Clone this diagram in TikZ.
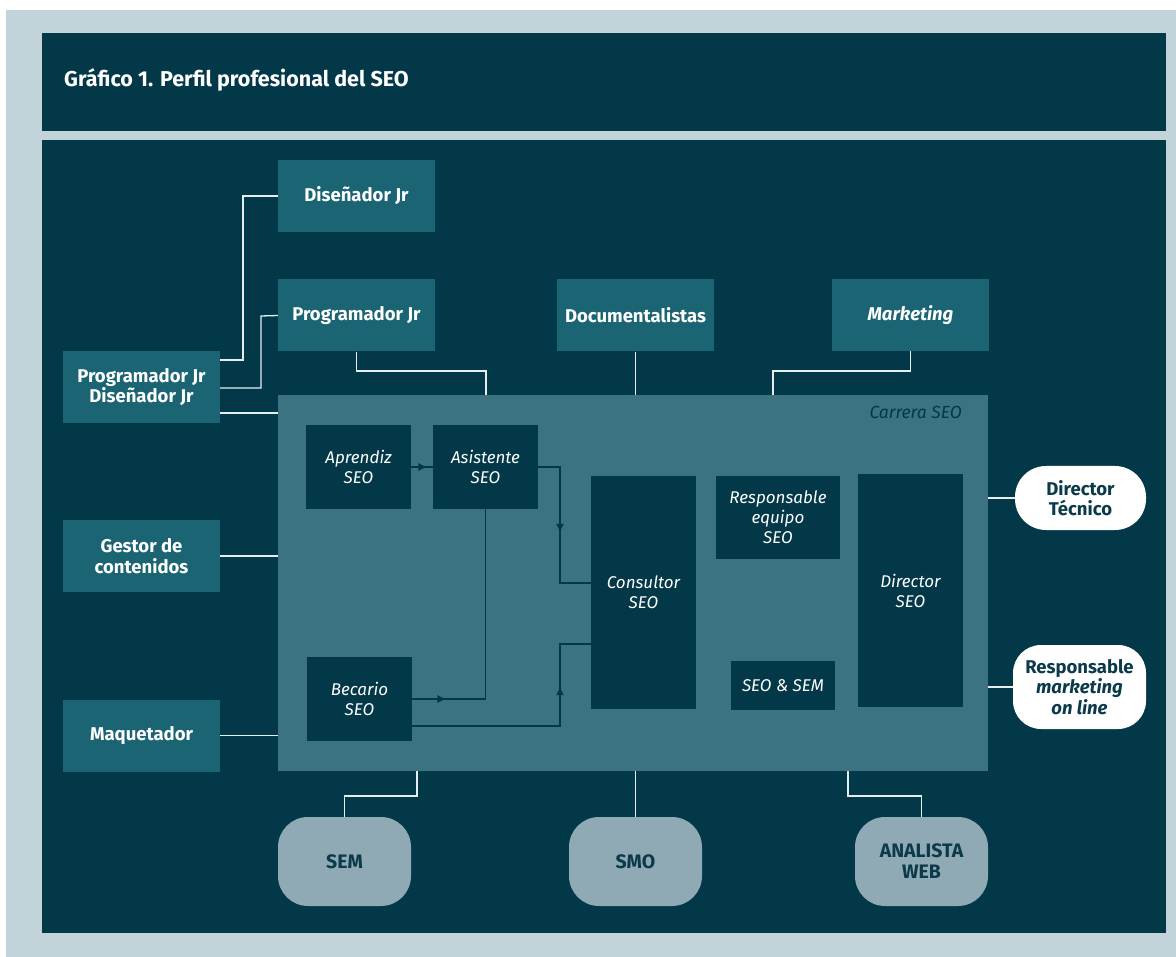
\documentclass[tikz,border=0pt]{standalone}
\usepackage{fontspec}
\setmainfont{Fira Sans}
\usetikzlibrary{arrows.meta,decorations.markings}
\definecolor{pale}{HTML}{C3D3DA}
\definecolor{fondo}{HTML}{023848}
\definecolor{caja}{HTML}{1B6474}
\definecolor{zona}{HTML}{3B7383}
\definecolor{claro}{HTML}{8FAAB4}
\definecolor{linea}{HTML}{E6EEF1}
\definecolor{tinta}{HTML}{0B3B4B}
\tikzset{
  puesto/.style={fill=caja,text=white,font=\bfseries\fontsize{18.5}{20.5}\selectfont,align=center,minimum width=157pt,minimum height=72pt,inner sep=0pt},
  etapa/.style={fill=fondo,text=white,font=\itshape\fontsize{17}{20}\selectfont,align=center,minimum width=105pt,minimum height=84pt,inner sep=0pt},
  salida/.style={fill=white,text=tinta,font=\bfseries\fontsize{18.5}{20.5}\selectfont,align=center,rounded corners=31pt,inner sep=0pt},
  afin/.style={fill=claro,text=tinta,font=\bfseries\fontsize{19.5}{21}\selectfont,align=center,rounded corners=30pt,minimum width=133pt,minimum height=89pt,inner sep=0pt},
  enlace/.style={draw=linea,line width=1.3pt},
  flujo/.style={draw=fondo,line width=1.3pt},
  flecha/.style={flujo,postaction={decorate},decoration={markings,mark=at position #1 with {\arrow{Latex[length=9pt,width=8pt]}}}}
}
\begin{document}
\begin{tikzpicture}[x=1pt,y=-1pt]
\useasboundingbox (0,0) rectangle (1176,957);
\fill[white] (0,0) rectangle (1176,957);
\fill[pale] (6,10) rectangle (1176,957);
\fill[fondo] (42,33) rectangle (1166,131);
\fill[fondo] (42,140) rectangle (1166,933);
\node[anchor=west,text=white,font=\bfseries\fontsize{21.5}{24}\selectfont,inner sep=0pt] (titulo) at (64,80) {Gráfico 1. Perfil profesional del SEO};

\node[fill=zona,minimum width=710pt,minimum height=376pt,inner sep=0pt] (carrera) at (633,583) {};
\node[anchor=north east,text=fondo,font=\itshape\fontsize{17.5}{20}\selectfont,inner sep=0pt] (carreralabel) at (962,406) {Carrera SEO};

\node[puesto] (disjr) at (356.5,196) {Diseñador Jr};
\node[puesto] (progjr) at (356.5,315.5) {Programador Jr};
\node[puesto] (docu) at (635.5,315.5) {Documentalistas};
\node[puesto] (mkt) at (910.5,315) {\textit{Marketing}};
\node[puesto] (progdis) at (141.5,387) {Programador Jr\\Diseñador Jr};
\node[puesto] (gestor) at (141.5,556) {Gestor de\\contenidos};
\node[puesto] (maq) at (141.5,735.5) {Maquetador};

\node[etapa] (aprendiz) at (358.5,467) {Aprendiz\\SEO};
\node[etapa] (asistente) at (485.5,467) {Asistente\\SEO};
\node[etapa] (becario) at (359.5,699) {Becario\\SEO};
\node[etapa,minimum height=233pt] (consultor) at (643.5,592.5) {Consultor\\SEO};
\node[etapa,minimum width=124pt,minimum height=83pt] (respeq) at (778,517.5) {Responsable\\equipo\\SEO};
\node[etapa,minimum width=104pt,minimum height=49pt] (seosem) at (783,685.5) {SEO \& SEM};
\node[etapa,minimum height=233pt] (dirseo) at (910.5,590.5) {Director\\SEO};

\node[salida,minimum width=131pt,minimum height=64pt] (dirtec) at (1080.5,498) {Director\\Técnico};
\node[salida,minimum width=133pt,minimum height=84pt,rounded corners=28pt] (respmkt) at (1079.5,687) {Responsable\\\textit{marketing}\\\textit{on line}};

\node[afin] (sem) at (344.5,861.5) {SEM};
\node[afin] (smo) at (635.5,861.5) {SMO};
\node[afin] (analista) at (921.5,861.5) {ANALISTA\\WEB};

\draw[enlace] (progdis.east |- 0,360) -| (243,196) -- (disjr.west);
\draw[enlace] (progdis.east |- 0,388) -| (261,316) -- (progjr.west);
\draw[enlace] (progdis.east |- 0,413) -- (carrera.west |- 0,413);
\draw[enlace] (progjr.south) |- (486,371) -- (carrera.north -| 486,0);
\draw[enlace] (docu.south) -- (docu.south |- carrera.north);
\draw[enlace] (mkt.south) |- (773,371) -- (carrera.north -| 773,0);
\draw[enlace] (gestor.east) -- (gestor.east -| carrera.west);
\draw[enlace] (maq.east) -- (maq.east -| carrera.west);
\draw[enlace] (carrera.east |- dirtec.west) -- (dirtec.west);
\draw[enlace] (carrera.east |- respmkt.west) -- (respmkt.west);
\draw[enlace] (carrera.south -| 417,0) |- (sem.north |- 0,796) -- (sem.north);
\draw[enlace] (carrera.south -| smo.north) -- (smo.north);
\draw[enlace] (carrera.south -| 848,0) |- (analista.north |- 0,796) -- (analista.north);

\draw[flecha=0.75] (aprendiz.east) -- (asistente.west);
\draw[flecha=0.52] (asistente.east) -| (560,583) -- (consultor.west |- 0,583);
\draw[flecha=0.13] (becario.east) -| (asistente.south);
\draw[flecha=0.72] (becario.east |- 0,726) -| (560,644) -- (consultor.west |- 0,644);
\end{tikzpicture}
\end{document}
